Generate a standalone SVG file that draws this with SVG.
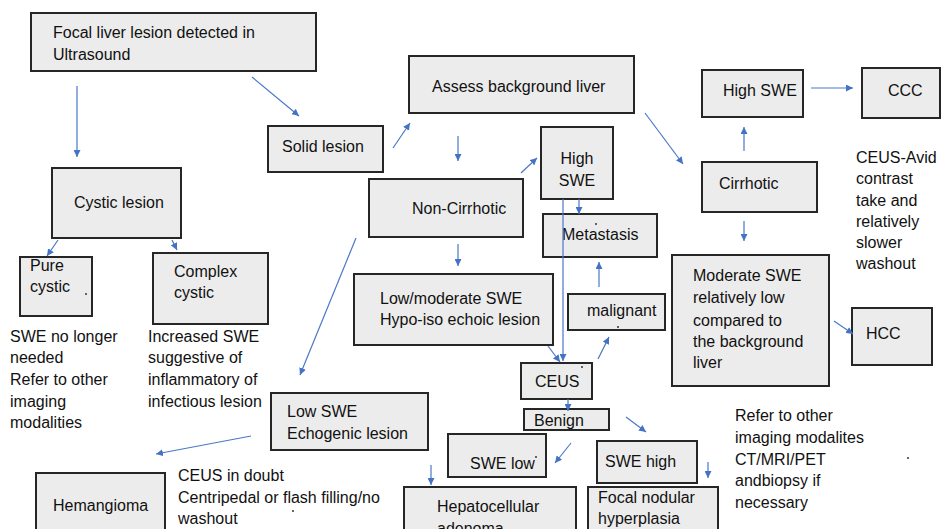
<svg xmlns="http://www.w3.org/2000/svg" width="943" height="529" viewBox="0 0 943 529">
<defs>
<marker id="ah" viewBox="0 0 10 10" refX="10" refY="5" markerWidth="7" markerHeight="7" markerUnits="userSpaceOnUse" orient="auto">
<path d="M0,0 L10,5 L0,10 z" fill="#4472c4"/>
</marker>
<style>
.box{fill:#ececec;stroke:#262626;stroke-width:2}
text{font-family:"Liberation Sans",Arial,sans-serif;font-size:16px;fill:#111}
.c line{stroke:#4a78c8;stroke-width:1.2;marker-end:url(#ah)}
.dot{fill:#222}
</style>
</defs>
<rect width="943" height="529" fill="#fff"/>

<g id="n-focal"><rect class="box" x="31" y="13" width="285" height="58"/><text x="53" y="38">Focal liver lesion detected in</text><text x="53" y="60">Ultrasound</text></g>
<g id="n-cystic"><rect class="box" x="52" y="168" width="129" height="70"/><text x="74" y="208">Cystic lesion</text></g>
<g id="n-solid"><rect class="box" x="268" y="126" width="115" height="46"/><text x="282" y="152">Solid lesion</text></g>
<g id="n-assess"><rect class="box" x="409" y="56" width="225" height="57"/><text x="432" y="92">Assess background liver</text></g>
<g id="n-noncirr"><rect class="box" x="369" y="179" width="154" height="58"/><text x="412" y="214">Non-Cirrhotic</text></g>
<g id="n-highswe1"><rect class="box" x="541" y="127" width="72" height="72"/><text x="577" y="164" text-anchor="middle">High</text><text x="577" y="186" text-anchor="middle">SWE</text></g>
<g id="n-metastasis"><rect class="box" x="543" y="214" width="114" height="43"/><text x="562" y="240">Metastasis</text><circle class="dot" cx="596" cy="224" r="0.9"/></g>
<g id="n-lowmod"><rect class="box" x="354" y="274" width="199" height="71"/><text x="380" y="304">Low/moderate SWE</text><text x="380" y="325">Hypo-iso echoic lesion</text></g>
<g id="n-malignant"><rect class="box" x="568" y="294" width="97" height="36"/><text x="587" y="316">malignant</text><circle class="dot" cx="618" cy="327" r="0.9"/></g>
<g id="n-ceus"><rect class="box" x="521" y="363" width="71" height="36"/><text x="535" y="387">CEUS</text><circle class="dot" cx="582" cy="367" r="0.9"/></g>
<g id="n-benign"><rect class="box" x="524" y="409" width="85" height="21"/><text x="534" y="426">Benign</text></g>
<g id="n-swelow"><rect class="box" x="448" y="434" width="98" height="43"/><text x="470" y="469">SWE low</text><circle class="dot" cx="536" cy="457" r="0.9"/></g>
<g id="n-swehigh"><rect class="box" x="597" y="441" width="100" height="42"/><text x="605" y="467">SWE high</text></g>
<g id="n-hepato"><rect class="box" x="404" y="487" width="172" height="50"/><text x="437" y="512">Hepatocellular</text><text x="437" y="534">adenoma</text></g>
<g id="n-fnh"><rect class="box" x="588" y="487" width="130" height="50"/><text x="598" y="503">Focal nodular</text><text x="598" y="524">hyperplasia</text></g>
<g id="n-highswe2"><rect class="box" x="702" y="70" width="101" height="47"/><text x="723" y="96">High SWE</text></g>
<g id="n-ccc"><rect class="box" x="862" y="68" width="78" height="50"/><text x="888" y="96">CCC</text></g>
<g id="n-cirrhotic"><rect class="box" x="702" y="162" width="115" height="50"/><text x="719" y="189">Cirrhotic</text></g>
<g id="n-moderate"><rect class="box" x="672" y="255" width="157" height="131"/><text x="693" y="281">Moderate SWE</text><text x="693" y="303">relatively low</text><text x="693" y="326">compared to</text><text x="693" y="347">the background</text><text x="693" y="368">liver</text></g>
<g id="n-hcc"><rect class="box" x="852" y="308" width="80" height="57"/><text x="866" y="339">HCC</text></g>
<g id="n-pure"><rect class="box" x="20" y="257" width="72" height="59"/><text x="30" y="271">Pure</text><text x="30" y="292">cystic</text><circle class="dot" cx="86" cy="294" r="0.9"/></g>
<g id="n-complex"><rect class="box" x="153" y="253" width="115" height="71"/><text x="174" y="277">Complex</text><text x="174" y="298">cystic</text></g>
<g id="n-lowswe"><rect class="box" x="271" y="393" width="157" height="57"/><text x="287" y="417">Low SWE</text><text x="287" y="439">Echogenic lesion</text></g>
<g id="n-hemangioma"><rect class="box" x="36" y="473" width="129" height="64"/><text x="53" y="511">Hemangioma</text></g>

<g id="notes">
<text x="10" y="342">SWE no longer</text><text x="10" y="363">needed</text><text x="10" y="385">Refer to other</text><text x="10" y="407">imaging</text><text x="10" y="428">modalities</text>
<text x="148" y="342">Increased SWE</text><text x="148" y="363">suggestive of</text><text x="148" y="385">inflammatory of</text><text x="148" y="407">infectious lesion</text>
<text x="856" y="163">CEUS-Avid</text><text x="856" y="184">contrast</text><text x="856" y="206">take and</text><text x="856" y="227">relatively</text><text x="856" y="248">slower</text><text x="856" y="269">washout</text>
<text x="735" y="421">Refer to other</text><text x="735" y="443">imaging modalites</text><text x="735" y="465">CT/MRI/PET</text><text x="735" y="486">andbiopsy if</text><text x="735" y="508">necessary</text>
<text x="178" y="481">CEUS in doubt</text><text x="178" y="503">Centripedal or flash filling/no</text><text x="178" y="524">washout</text>
<circle class="dot" cx="293" cy="511" r="0.9"/>
<circle class="dot" cx="908" cy="458" r="0.9"/>
</g>

<g id="connectors" class="c">
<line x1="77" y1="86" x2="77" y2="157"/>
<line x1="252" y1="77" x2="299" y2="116"/>
<line x1="393" y1="148" x2="410" y2="123"/>
<line x1="458" y1="136" x2="458" y2="161"/>
<line x1="521" y1="173" x2="537" y2="158"/>
<line x1="645" y1="113" x2="683" y2="164"/>
<line x1="744" y1="151" x2="744" y2="127"/>
<line x1="811" y1="88" x2="853" y2="88"/>
<line x1="744" y1="221" x2="744" y2="241"/>
<line x1="834" y1="321" x2="853" y2="334"/>
<line x1="579" y1="199" x2="579" y2="214"/>
<line x1="563" y1="199" x2="563" y2="361"/>
<line x1="599" y1="287" x2="599" y2="262"/>
<line x1="598" y1="359" x2="609" y2="337"/>
<line x1="458" y1="244" x2="458" y2="266"/>
<line x1="548" y1="346" x2="560" y2="362"/>
<line x1="356" y1="238" x2="300" y2="375"/>
<line x1="568" y1="399" x2="568" y2="411"/>
<line x1="571" y1="443" x2="555" y2="463"/>
<line x1="626" y1="417" x2="646" y2="432"/>
<line x1="708" y1="462" x2="708" y2="478"/>
<line x1="431" y1="465" x2="431" y2="485"/>
<line x1="251" y1="436" x2="156" y2="454"/>
<line x1="58" y1="240" x2="47" y2="256"/>
<line x1="172" y1="240" x2="177" y2="250"/>
</g>
</svg>
